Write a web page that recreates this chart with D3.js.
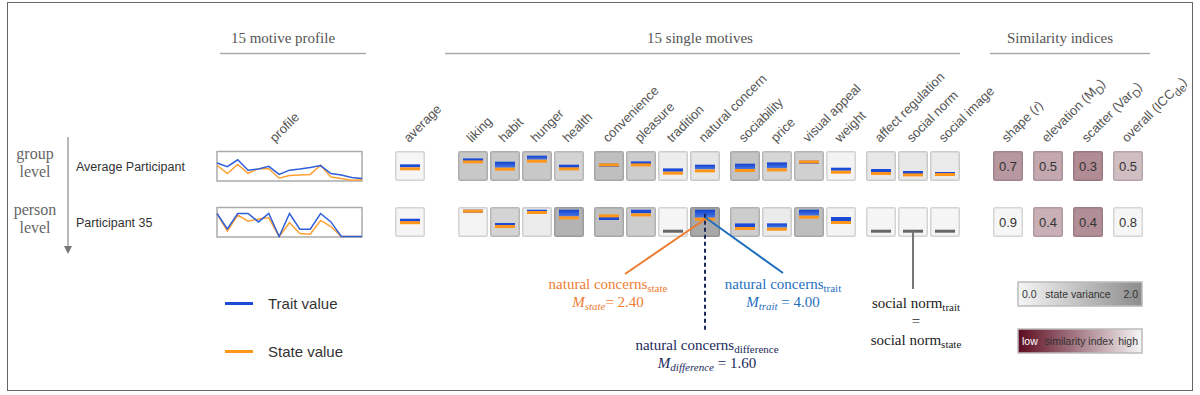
<!DOCTYPE html>
<html>
<head>
<meta charset="utf-8">
<script src="https://cdn.jsdelivr.net/npm/d3@7"></script>
<style>
	body { margin: 0; background: #fff; }
	.sans { font-family: "Liberation Sans", Arial, sans-serif; }
	.serif { font-family: "Liberation Serif", "Times New Roman", serif; }
</style>
</head>
<body>
<div id="chartContainer"></div>
<script>
//motives in the order they are drawn, with the group each one sits in
var motives = ["liking", "habit", "hunger", "health", "convenience", "pleasure", "tradition", "natural concern",
				"sociability", "price", "visual appeal", "weight", "affect regulation", "social norm", "social image"];
var motiveGroup = [0, 0, 0, 0, 1, 1, 1, 1, 2, 2, 2, 2, 3, 3, 3];

var participants = ["Average Participant", "Participant 35"];
var levelLabels = [["group", "level"], ["person", "level"]];

//trait and state means per motive (0 - 4)
var traitAvg = [3.06, 2.40, 3.60, 1.80, 2.00, 2.46, 1.06, 1.80, 2.00, 2.26, 2.60, 1.20, 0.94, 0.54, 0.34];
var stateAvg = [2.66, 1.20, 2.80, 1.26, 2.06, 2.06, 0.40, 0.86, 0.94, 1.06, 2.66, 0.60, 0.34, 0.06, 0.14];
var traitP35 = [4.00, 1.34, 4.00, 4.00, 2.54, 4.00, 0.00, 4.00, 1.26, 1.26, 4.00, 2.54, 0.00, 0.00, 0.00];
var stateP35 = [4.00, 0.94, 3.74, 2.66, 3.06, 3.26, 0.00, 2.40, 0.54, 0.40, 2.80, 1.74, 0.00, 0.00, 0.00];

//state variance per motive (0 - 2), used for the box shading
var varianceAvg = [0.86, 0.86, 0.86, 0.65, 1.03, 0.76, 0.15, 0.29, 0.93, 0.59, 0.70, 0.04, 0.25, 0.25, 0.19];
var varianceP35 = [0.04, 0.63, 0.17, 1.26, 1.01, 0.76, 0.00, 1.47, 0.76, 0.19, 1.05, 0.04, 0.00, 0.00, 0.00];

//similarity indices
var simIndices = ["shape", "elevation", "scatter", "overall"];
var simAvg = [0.7, 0.5, 0.3, 0.5];
var simP35 = [0.9, 0.4, 0.4, 0.8];
//where each cell sits on the low - high colour key
var simShadeAvg = [0.60, 0.67, 0.55, 0.76];
var simShadeP35 = [1.00, 0.70, 0.56, 1.00];

var headers = ["15 motive profile", "15 single motives", "Similarity indices"];

var rows = participants.map(function (p, i) {
	return {
		name: p,
		level: levelLabels[i],
		trait: i == 0 ? traitAvg : traitP35,
		state: i == 0 ? stateAvg : stateP35,
		variance: i == 0 ? varianceAvg : varianceP35,
		sim: i == 0 ? simAvg : simP35,
		shade: i == 0 ? simShadeAvg : simShadeP35
	};
});

var width = 1200, height = 395;
var svg = d3.select("#chartContainer").append("svg")
	.attr("width", width)
	.attr("height", height);

var defs = svg.append("defs");
var tg = defs.append("linearGradient").attr("id", "traitGrad").attr("x1", 0).attr("x2", 0).attr("y1", 0).attr("y2", 1);
tg.append("stop").attr("offset", "0%").attr("stop-color", "#1041cf");
tg.append("stop").attr("offset", "100%").attr("stop-color", "#4a78e2");

var blue = "#1a4ad6", orange = "#ff961c", boxSize = 30;

//scales
var rowY = d3.scaleOrdinal(participants, [151, 207]);
var cellX = d3.scaleLinear([0, 1], [458, 490]);
var cellY = d3.scaleLinear([0, 4], [22.7, 2.7]);
var profX = d3.scaleLinear([0, motives.length - 1], [217, 362]);
var profY = d3.scaleLinear([0, 5], [29.5, 0.8]);
var simX = d3.scaleLinear([0, 1], [993, 1033]);
var varColor = d3.scaleLinear([0, 2], ["#f5f5f5", "#8c8c8c"]);
var simColor = d3.scaleLinear([0, 1], ["#5c0b1f", "#f6f6f6"]);

var motiveX = function (i) { return cellX(i + motiveGroup[i] * 0.25); };

//outer frame
svg.append("rect")
	.attr("x", 7.5).attr("y", 2.5)
	.attr("width", 1185).attr("height", 388)
	.attr("fill", "none").attr("stroke", "#666").attr("stroke-width", 1);

//section headers with rules under them
var headerSpec = [[283, 220, 366], [700, 445, 960], [1060, 990, 1150]];
headers.forEach(function (h, i) {
	svg.append("text")
		.attr("class", "serif")
		.attr("x", headerSpec[i][0]).attr("y", 43)
		.attr("text-anchor", "middle")
		.style("font-size", "15px")
		.attr("fill", "#555")
		.text(h);
	svg.append("line")
		.attr("x1", headerSpec[i][1]).attr("x2", headerSpec[i][2])
		.attr("y1", 53.5).attr("y2", 53.5)
		.attr("stroke", "#aaa").attr("stroke-width", 1.5);
});

//rotated column labels
var rotLabel = function (x, build) {
	var t = svg.append("text")
		.attr("class", "sans")
		.attr("transform", "translate(" + x + ",143) rotate(-45)")
		.style("font-size", "13px")
		.attr("fill", "#555");
	build(t);
};
rotLabel(275, function (t) { t.text("profile"); });
rotLabel(409, function (t) { t.text("average"); });
motives.forEach(function (m, i) {
	rotLabel(motiveX(i) + boxSize / 2 - 1, function (t) { t.text(m); });
});
var simLabelParts = [
	[["shape (", ""], ["r", "it"], [")", ""]],
	[["elevation (", ""], ["M", ""], ["D", "sub"], [")", ""]],
	[["scatter (", ""], ["Var", ""], ["D", "sub"], [")", ""]],
	[["overall (", ""], ["ICC", ""], ["de", "sub"], [")", ""]]
];
simIndices.forEach(function (s, i) {
	rotLabel(simX(i) + boxSize / 2 - 1, function (t) {
		simLabelParts[i].forEach(function (p, k) {
			var ts = t.append("tspan").text(p[0]);
			if (p[1] == "it") ts.style("font-style", "italic");
			if (p[1] == "sub") ts.attr("dy", 4).style("font-size", "11px");
			else if (k > 0 && simLabelParts[i][k - 1][1] == "sub") ts.attr("dy", -4);
		});
	});
});

//level arrow on the left
svg.append("line")
	.attr("x1", 68).attr("x2", 68).attr("y1", 137).attr("y2", 248)
	.attr("stroke", "#888").attr("stroke-width", 1.2);
svg.append("path")
	.attr("d", "M64,246 L72,246 L68,254 Z")
	.attr("fill", "#777");

var row = svg.selectAll(".row")
	.data(rows)
	.enter().append("g")
		.attr("class", "row")
		.attr("transform", function (d) { return "translate(0," + rowY(d.name) + ")"; });

row.each(function (d) {
	var g = d3.select(this);

	d.level.forEach(function (w, k) {
		g.append("text")
			.attr("class", "serif")
			.attr("x", 35).attr("y", 7.5 + k * 18.5)
			.attr("text-anchor", "middle")
			.style("font-size", "16px")
			.attr("fill", "#666")
			.text(w);
	});

	g.append("text")
		.attr("class", "sans")
		.attr("x", 76).attr("y", 20)
		.style("font-size", "12.5px")
		.attr("fill", "#333")
		.text(d.name);

	//profile sparkline
	g.append("rect")
		.attr("x", 217).attr("y", 0.5)
		.attr("width", 145).attr("height", 29.5)
		.attr("fill", "#fff").attr("stroke", "#aaa").attr("stroke-width", 1.5);
	var line = d3.line()
		.x(function (v, i) { return profX(i); })
		.y(function (v) { return profY(v); });
	g.append("path").attr("d", line(d.state))
		.attr("fill", "none").attr("stroke", "#ffa236").attr("stroke-width", 1.5);
	g.append("path").attr("d", line(d.trait))
		.attr("fill", "none").attr("stroke", "#2e5fd8").attr("stroke-width", 1.5);

	//cells: the average cell then the 15 motives
	var cells = [{x: 395, trait: d3.mean(d.trait), state: d3.mean(d.state), variance: 0}];
	motives.forEach(function (m, i) {
		cells.push({x: motiveX(i), trait: d.trait[i], state: d.state[i], variance: d.variance[i]});
	});

	var cell = g.selectAll(".cell")
		.data(cells)
		.enter().append("g")
			.attr("class", "cell")
			.attr("transform", function (c) { return "translate(" + c.x + ",0)"; });

	cell.append("rect")
		.attr("x", 0.75).attr("y", 0.75)
		.attr("width", boxSize - 1.5).attr("height", boxSize - 1.5)
		.attr("rx", 1.5)
		.attr("fill", function (c) { return varColor(c.variance); })
		.attr("stroke", function (c) { return d3.color(varColor(c.variance)).darker(0.4); })
		.attr("stroke-width", 1.5);

	cell.each(function (c) {
		var cg = d3.select(this);
		if (c.trait == c.state && c.variance == 0 && c.trait == 0) {
			cg.append("rect")
				.attr("x", 5).attr("y", cellY(c.state))
				.attr("width", 20).attr("height", 3)
				.attr("fill", "#666");
			return;
		}
		var yt = cellY(c.trait), ys = cellY(c.state);
		cg.append("rect")
			.attr("x", 5).attr("y", yt)
			.attr("width", 20).attr("height", Math.max(3, ys - yt))
			.attr("fill", ys - yt > 4 ? "url(#traitGrad)" : blue);
		cg.append("rect")
			.attr("x", 5).attr("y", ys)
			.attr("width", 20).attr("height", 3)
			.attr("fill", orange);
	});

	//similarity cells
	var sc = g.selectAll(".sim")
		.data(d.sim)
		.enter().append("g")
			.attr("class", "sim")
			.attr("transform", function (v, i) { return "translate(" + simX(i) + ",0)"; });
	sc.append("rect")
		.attr("x", 0.75).attr("y", 0.75)
		.attr("width", boxSize - 1.5).attr("height", boxSize - 1.5)
		.attr("rx", 1.5)
		.attr("fill", function (v, i) { return simColor(d.shade[i]); })
		.attr("stroke", function (v, i) { return d3.color(simColor(d.shade[i])).darker(0.4); })
		.attr("stroke-width", 1.5);
	sc.append("text")
		.attr("class", "sans")
		.attr("x", boxSize / 2).attr("y", 20)
		.attr("text-anchor", "middle")
		.style("font-size", "13px")
		.attr("fill", "#333")
		.text(function (v) { return d3.format(".1f")(v); });
});

//annotations for natural concern of participant 35
var nc = motives.indexOf("natural concern");
var ncX = motiveX(nc) + boxSize / 2, top2 = rowY(participants[1]);
var ncTraitY = top2 + cellY(traitP35[nc]) + 4, ncStateY = top2 + cellY(stateP35[nc]) + 1.5;

svg.append("line")
	.attr("x1", ncX).attr("y1", ncStateY).attr("x2", 625).attr("y2", 274)
	.attr("stroke", "#ee7d31").attr("stroke-width", 2);
svg.append("line")
	.attr("x1", ncX).attr("y1", ncStateY - 2).attr("x2", 783).attr("y2", 273)
	.attr("stroke", "#1f6fbf").attr("stroke-width", 2);
svg.append("line")
	.attr("x1", ncX).attr("y1", ncTraitY).attr("x2", ncX).attr("y2", 330)
	.attr("stroke", "#1c2a5a").attr("stroke-width", 2)
	.attr("stroke-dasharray", "4,3");

var annot = function (x, y, color, parts) {
	var t = svg.append("text")
		.attr("class", "serif")
		.attr("x", x).attr("y", y)
		.attr("text-anchor", "middle")
		.style("font-size", "15px")
		.attr("fill", color);
	parts.forEach(function (p, k) {
		var ts = t.append("tspan").text(p[0]);
		if (p[1].indexOf("it") != -1) ts.style("font-style", "italic");
		if (p[1].indexOf("sub") != -1) ts.attr("dy", 3).style("font-size", "11px");
		else if (k > 0 && parts[k - 1][1].indexOf("sub") != -1) ts.attr("dy", -3);
	});
};

annot(608, 289, "#ee7d31", [["natural concerns", ""], ["state", "sub"]]);
annot(608, 307, "#ee7d31", [["M", "it"], ["state", "it sub"], ["= " + d3.format(".2f")(stateP35[nc]), ""]]);
annot(783, 289, "#1f6fbf", [["natural concerns", ""], ["trait", "sub"]]);
annot(783, 307, "#1f6fbf", [["M", "it"], ["trait", "it sub"], [" = " + d3.format(".2f")(traitP35[nc]), ""]]);
annot(707, 350, "#1c2a5a", [["natural concerns", ""], ["difference", "sub"]]);
annot(707, 368, "#1c2a5a", [["M", "it"], ["difference", "it sub"], [" = " + d3.format(".2f")(traitP35[nc] - stateP35[nc]), ""]]);

//social norm: trait equals state
var sn = motives.indexOf("social norm");
var snX = motiveX(sn) + boxSize / 2;
svg.append("line")
	.attr("x1", snX).attr("y1", top2 + cellY(stateP35[sn]) + 1.5).attr("x2", snX).attr("y2", 289)
	.attr("stroke", "#777").attr("stroke-width", 2);
annot(snX + 3, 308, "#222", [["social norm", ""], ["trait", "sub"]]);
annot(snX + 3, 326, "#222", [["=", ""]]);
annot(snX + 3, 345, "#222", [["social norm", ""], ["state", "sub"]]);

//trait / state legend
var legendItems = [["Trait value", blue, 303.5], ["State value", orange, 351.5]];
legendItems.forEach(function (l) {
	svg.append("line")
		.attr("x1", 225).attr("x2", 253).attr("y1", l[2]).attr("y2", l[2])
		.attr("stroke", l[1]).attr("stroke-width", 3);
	svg.append("text")
		.attr("class", "sans")
		.attr("x", 268).attr("y", l[2] + 5)
		.style("font-size", "15px")
		.attr("fill", "#333")
		.text(l[0]);
});

//colour keys
var keyGrad = function (id, c0, c1) {
	var gr = defs.append("linearGradient").attr("id", id);
	gr.append("stop").attr("offset", "0%").attr("stop-color", c0);
	gr.append("stop").attr("offset", "100%").attr("stop-color", c1);
};
keyGrad("varKey", varColor(0), varColor(2));
keyGrad("simKey", simColor(0), simColor(1));

var keys = [
	{id: "varKey", y: 282, labels: [["0.0", 1022, "start", "#333"], ["state variance", 1078, "middle", "#333"], ["2.0", 1138, "end", "#333"]]},
	{id: "simKey", y: 329, labels: [["low", 1022, "start", "#fff"], ["similarity index", 1079, "middle", "#333"], ["high", 1138, "end", "#333"]]}
];
keys.forEach(function (k) {
	svg.append("rect")
		.attr("x", 1018).attr("y", k.y)
		.attr("width", 124).attr("height", 24)
		.attr("fill", "url(#" + k.id + ")")
		.attr("stroke", "#bbb").attr("stroke-width", 1.5);
	k.labels.forEach(function (l) {
		svg.append("text")
			.attr("class", "sans")
			.attr("x", l[1]).attr("y", k.y + 15.5)
			.attr("text-anchor", l[2])
			.style("font-size", "10.5px")
			.attr("fill", l[3])
			.text(l[0]);
	});
});
</script>
</body>
</html>
